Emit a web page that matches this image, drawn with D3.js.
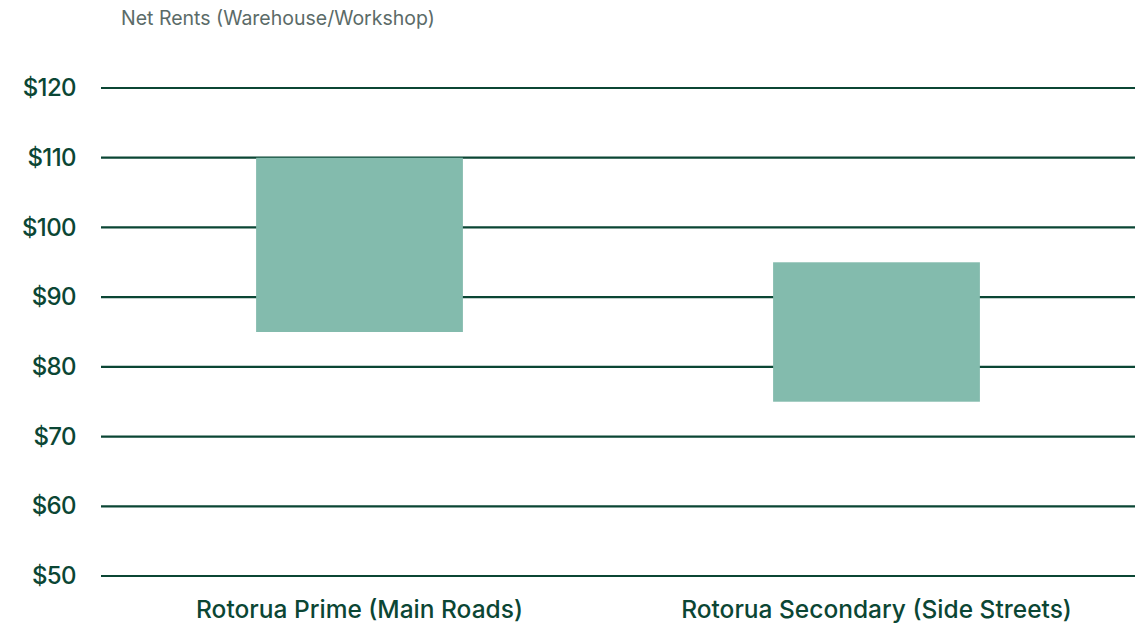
<!DOCTYPE html>
<html>
<head>
<meta charset="utf-8">
<script src="https://cdn.jsdelivr.net/npm/d3@7"></script>
<style>
  html, body { margin: 0; padding: 0; background: #fff; }
  svg { display: block; font-family: Inter, Roboto, sans-serif; }
</style>
</head>
<body>
<svg id="chart" width="1139" height="626"></svg>
<script>
"use strict"

// data
var categories = ["Rotorua Prime (Main Roads)", "Rotorua Secondary (Side Streets)"];
var lowValues = [85, 75];
var highValues = [110, 95];
var yTicks = [50, 60, 70, 80, 90, 100, 110, 120];
var title = "Net Rents (Warehouse/Workshop)";

var margin = { top: 88, right: 4, bottom: 50, left: 101 };
var svg = d3.select("#chart"),
    width = +svg.attr("width") - margin.left - margin.right,
    height = +svg.attr("height") - margin.top - margin.bottom;

var gridColor = "#0b4634",
    barColor = "#83bbad";

var x = d3.scaleBand()
    .domain(categories)
    .range([0, width])
    .paddingInner(0.6)
    .paddingOuter(0.3);

var y = d3.scaleLinear()
    .domain([50, 120])
    .range([height, 0]);

var g = svg.append("g")
    .attr("transform", "translate(" + margin.left + "," + margin.top + ")");

// grid lines
g.append("g")
    .selectAll("line")
    .data(yTicks)
    .join("line")
    .attr("x1", 0)
    .attr("x2", width)
    .attr("y1", d => y(d))
    .attr("y2", d => y(d))
    .attr("stroke", gridColor)
    .attr("stroke-width", 2.2);

// y tick labels
var yAxis = d3.axisLeft(y)
    .tickValues(yTicks)
    .tickSize(0)
    .tickPadding(25)
    .tickFormat(d => "$" + d);

g.append("g")
    .attr("class", "axis")
    .call(yAxis)
    .call(s => s.select(".domain").remove())
    .selectAll("text")
    .attr("fill", gridColor)
    .style("font-size", "24px")
    .style("font-weight", 500)
    .style("letter-spacing", "-0.6px")
    .style("font-family", "Inter, sans-serif");

// floating bars
var rows = categories.map((c, i) => ({ cat: c, lo: lowValues[i], hi: highValues[i] }));
g.append("g")
    .selectAll("rect")
    .data(rows)
    .join("rect")
    .attr("x", d => x(d.cat))
    .attr("width", x.bandwidth())
    .attr("y", d => y(d.hi))
    .attr("height", d => y(d.lo) - y(d.hi))
    .attr("fill", barColor);

// category labels
var xAxis = d3.axisBottom(x)
    .tickSize(0)
    .tickPadding(25);

g.append("g")
    .attr("transform", "translate(0," + height + ")")
    .call(xAxis)
    .call(s => s.select(".domain").remove())
    .selectAll("text")
    .attr("fill", gridColor)
    .style("font-size", "24.5px")
    .style("font-weight", 500)
    .style("font-family", "Inter, sans-serif");

// title
svg.append("text")
    .attr("x", 121)
    .attr("y", 25)
    .attr("fill", "#5b6b68")
    .style("font-size", "19.5px")
    .text(title);
</script>
</body>
</html>
